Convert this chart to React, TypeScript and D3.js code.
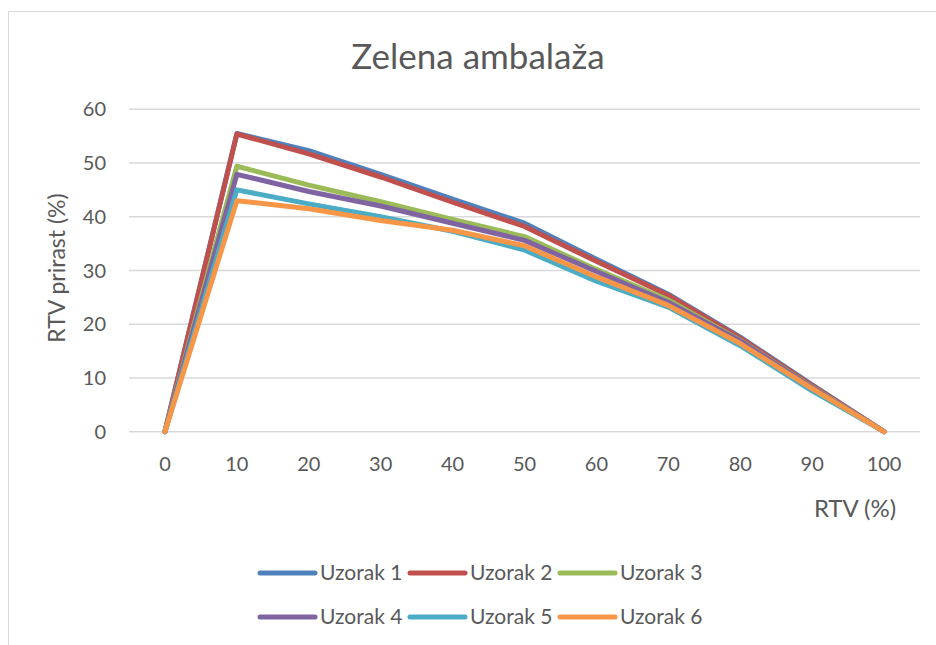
import React from "react";
import * as d3 from "d3";

const categories = ["0", "10", "20", "30", "40", "50", "60", "70", "80", "90", "100"];
const seriesNames = ["Uzorak 1", "Uzorak 2", "Uzorak 3", "Uzorak 4", "Uzorak 5", "Uzorak 6"];
const uzorak1 = [0, 55.5, 52.3, 47.9, 43.3, 38.8, 32.1, 25.6, 17.6, 8.7, 0];
const uzorak2 = [0, 55.4, 51.7, 47.4, 42.7, 38.2, 31.7, 25.4, 17.4, 8.6, 0];
const uzorak3 = [0, 49.4, 45.9, 42.8, 39.5, 36.3, 30.2, 24.5, 17.0, 8.3, 0];
const uzorak4 = [0, 47.9, 44.7, 42.0, 38.8, 35.6, 29.8, 24.1, 16.9, 8.2, 0];
const uzorak5 = [0, 45.0, 42.4, 40.0, 37.3, 33.8, 28.0, 23.2, 16.0, 7.6, 0];
const uzorak6 = [0, 43.0, 41.5, 39.3, 37.5, 34.6, 28.8, 23.5, 16.4, 8.0, 0];
const yTicks = [0, 10, 20, 30, 40, 50, 60];
const colors = ["#4F81BD", "#C0504D", "#9BBB59", "#8064A2", "#4BACC6", "#F79646"];
const allSeries = [uzorak1, uzorak2, uzorak3, uzorak4, uzorak5, uzorak6];

const FONT = "Lato, 'Open Sans', sans-serif";
const TXT = "#595959";

export default function App() {
  const x = d3.scalePoint<string>().domain(categories).range([129, 920]).padding(0.5);
  const y = d3.scaleLinear().domain([0, 60]).range([431.7, 109.3]);
  const line = d3
    .line<number>()
    .x((_, i) => x(categories[i]) as number)
    .y((d) => y(d));

  const legendX = [260, 410, 560];
  const legendY = [573, 617];

  return (
    <svg
      width={936}
      height={645}
      style={{ position: "absolute", left: 0, top: 0, background: "#fff" }}
      fontFamily={FONT}
    >
      <rect x={0} y={0} width={936} height={645} fill="#fff" />
      <rect x={8.5} y={11.5} width={1000} height={1000} fill="#fff" stroke="#d9d9d9" strokeWidth={1} />
      <text x={478} y={69} textAnchor="middle" fontSize={35} fill={TXT}>
        Zelena ambalaža
      </text>
      {yTicks.map((t) => (
        <g key={t}>
          <line x1={129} x2={920} y1={y(t)} y2={y(t)} stroke="#d9d9d9" strokeWidth={1.5} />
          <text x={106} y={y(t)} dy="0.35em" textAnchor="end" fontSize={20} fill={TXT}>
            {t}
          </text>
        </g>
      ))}
      {categories.map((c) => (
        <text key={c} x={x(c)} y={471} textAnchor="middle" fontSize={20} fill={TXT}>
          {c}
        </text>
      ))}
      <text x={855} y={517} textAnchor="middle" fontSize={24} fill={TXT}>
        RTV (%)
      </text>
      <text
        transform={`translate(65,268) rotate(-90)`}
        textAnchor="middle"
        fontSize={23}
        fill={TXT}
      >
        RTV prirast (%)
      </text>
      {allSeries.map((s, i) => (
        <path
          key={i}
          d={line(s) || ""}
          fill="none"
          stroke={colors[i]}
          strokeWidth={5}
          strokeLinejoin="round"
          strokeLinecap="round"
        />
      ))}
      {seriesNames.map((n, i) => {
        const lx = legendX[i % 3];
        const ly = legendY[Math.floor(i / 3)];
        return (
          <g key={n}>
            <line x1={lx} x2={lx + 55} y1={ly} y2={ly} stroke={colors[i]} strokeWidth={5} strokeLinecap="round" />
            <text x={lx + 60} y={ly} dy="0.35em" fontSize={21} fill={TXT}>
              {n}
            </text>
          </g>
        );
      })}
    </svg>
  );
}
